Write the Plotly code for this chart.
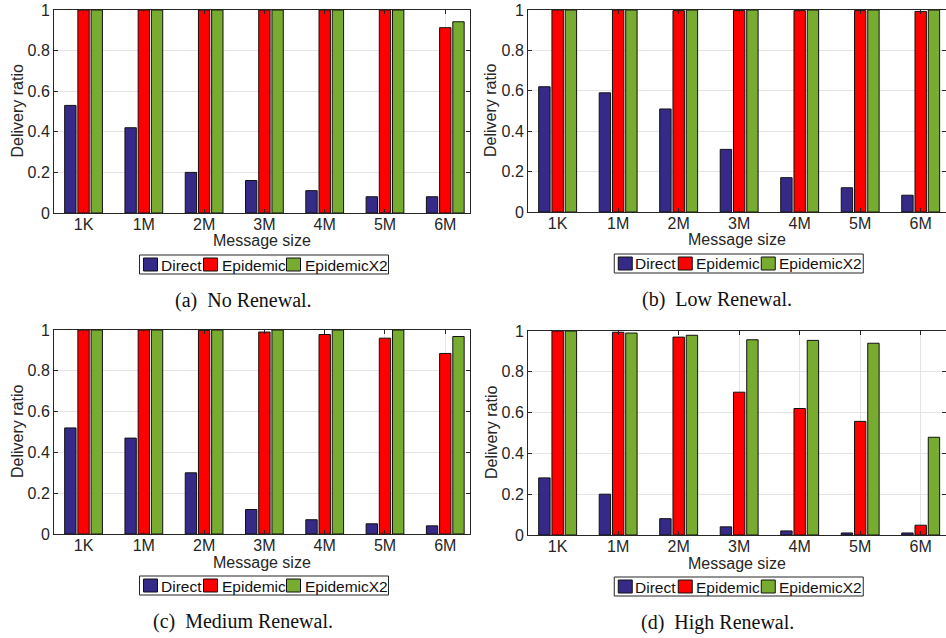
import plotly.graph_objects as go

W, H = 946, 638

# ---- data -----------------------------------------------------------------
categories = ["1K", "1M", "2M", "3M", "4M", "5M", "6M"]
series_names = ["Direct", "Epidemic", "EpidemicX2"]
series_colors = ["#352a87", "#ff0000", "#77ac30"]
y_ticks = [0, 0.2, 0.4, 0.6, 0.8, 1]
y_tick_labels = ["0", "0.2", "0.4", "0.6", "0.8", "1"]

no_direct = [0.53, 0.42, 0.20, 0.16, 0.11, 0.08, 0.08]
no_epidemic = [1.0, 1.0, 1.0, 1.0, 1.0, 1.0, 0.913]
no_epidemic_x2 = [1.0, 1.0, 1.0, 1.0, 1.0, 1.0, 0.942]

low_direct = [0.62, 0.59, 0.51, 0.31, 0.17, 0.12, 0.083]
low_epidemic = [1.0, 1.0, 0.997, 0.997, 0.997, 0.997, 0.993]
low_epidemic_x2 = [1.0, 1.0, 1.0, 1.0, 1.0, 1.0, 1.0]

med_direct = [0.52, 0.47, 0.30, 0.12, 0.07, 0.05, 0.04]
med_epidemic = [1.0, 1.0, 0.998, 0.99, 0.978, 0.96, 0.885]
med_epidemic_x2 = [1.0, 1.0, 1.0, 1.0, 1.0, 1.0, 0.968]

high_direct = [0.28, 0.20, 0.08, 0.04, 0.02, 0.01, 0.01]
high_epidemic = [1.0, 0.994, 0.97, 0.70, 0.62, 0.557, 0.048]
high_epidemic_x2 = [1.0, 0.99, 0.979, 0.957, 0.954, 0.94, 0.479]

panels = [
    ("(a)", "No Renewal.", [no_direct, no_epidemic, no_epidemic_x2]),
    ("(b)", "Low Renewal.", [low_direct, low_epidemic, low_epidemic_x2]),
    ("(c)", "Medium Renewal.", [med_direct, med_epidemic, med_epidemic_x2]),
    ("(d)", "High Renewal.", [high_direct, high_epidemic, high_epidemic_x2]),
]

# ---- layout geometry (pixels: left, top, right, bottom of each plot area) --
boxes = [(54, 10, 470, 213), (528, 10, 945.5, 212),
         (54, 330, 470, 534), (528, 331, 945.5, 535)]

SANS = "Liberation Sans, Arial, Helvetica, sans-serif"
SERIF = "Liberation Serif, Times New Roman, serif"
INK = "#262626"


def px(x):
    return x / W


def py(y):
    return 1 - y / H


def label(x, y, text, size, family=SANS, color=INK, xanchor="center", angle=0):
    return dict(
        x=px(x), y=py(y), xref="paper", yref="paper", text=text,
        showarrow=False, xanchor=xanchor, yanchor="middle", textangle=angle,
        font=dict(family=family, size=size, color=color),
    )


fig = go.Figure()
shapes = []
annotations = []

for i, ((tag, caption, values), box) in enumerate(zip(panels, boxes)):
    n = "" if i == 0 else str(i + 1)
    left, top, right, bottom = box
    for name, color, vals in zip(series_names, series_colors, values):
        fig.add_trace(go.Bar(
            x=categories, y=vals, name=name, showlegend=False,
            marker=dict(color=color, line=dict(color="#111111", width=1)),
            xaxis="x" + n, yaxis="y" + n,
        ))

    common = dict(
        showline=True, linecolor=INK, linewidth=1, mirror="ticks",
        ticks="inside", ticklen=4, tickcolor=INK, tickwidth=1,
        showgrid=True, gridcolor="#e4e4e4", gridwidth=1, zeroline=False,
        automargin=False,
        tickfont=dict(family=SANS, size=16, color=INK),
    )
    fig.layout["xaxis" + n] = dict(
        common, type="category", range=[-0.49, 6.41], ticklabelstandoff=-3,
        domain=[px(left), px(right)], anchor="y" + n,
    )
    fig.layout["yaxis" + n] = dict(
        common, range=[0, 1], tickvals=y_ticks, ticktext=y_tick_labels,
        domain=[py(bottom), py(top)], anchor="x" + n,
    )

    cx = (left + right) / 2
    # axis titles
    annotations.append(label(cx, bottom + 28, "Message size", 16))
    annotations.append(label(left - 37, (top + bottom) / 2, "Delivery ratio", 16, angle=-90))
    # caption below each panel
    annotations.append(label(left + 189, bottom + 87, tag + "\u2002" + caption, 20,
                             family=SERIF, color="#111111"))

    # legend box with swatches
    lg_w, lg_h = 249, 19
    lg_l = cx + 2 - lg_w / 2
    lg_t = bottom + 42
    shapes.append(dict(
        type="rect", xref="paper", yref="paper",
        x0=px(lg_l), x1=px(lg_l + lg_w), y0=py(lg_t + lg_h), y1=py(lg_t),
        line=dict(color=INK, width=1), fillcolor="white",
    ))
    item_offsets = [(4, 19), (64, 80), (147, 163)]
    for (sw, tx), name, color in zip(item_offsets, series_names, series_colors):
        shapes.append(dict(
            type="rect", xref="paper", yref="paper",
            x0=px(lg_l + sw), x1=px(lg_l + sw + 14),
            y0=py(lg_t + lg_h - 3), y1=py(lg_t + 3),
            line=dict(color="#111111", width=1), fillcolor=color,
        ))
        annotations.append(label(lg_l + tx, lg_t + lg_h / 2 + 0.5, name, 15.5,
                                 color="#111111", xanchor="left"))

fig.update_layout(
    width=W, height=H, autosize=False,
    margin=dict(l=0, r=0, t=0, b=0),
    paper_bgcolor="white", plot_bgcolor="white",
    barmode="group", bargap=0.343, bargroupgap=0.14,
    shapes=shapes, annotations=annotations,
    showlegend=False,
)

fig.write_html("out.html")
